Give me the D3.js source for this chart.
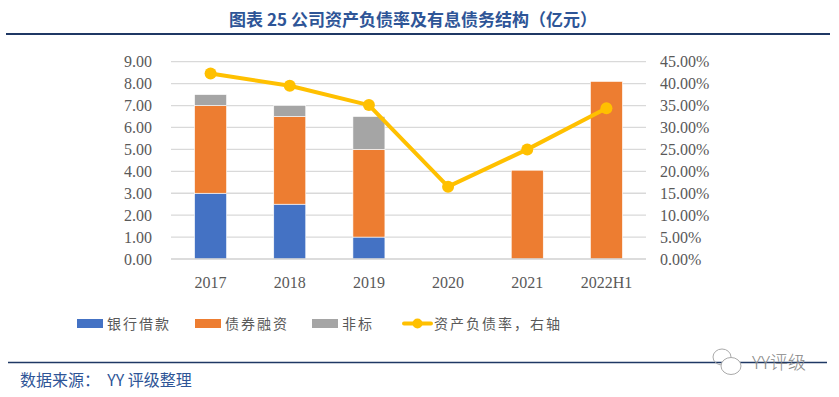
<!DOCTYPE html>
<html><head><meta charset="utf-8">
<script src="https://cdn.jsdelivr.net/npm/d3@7"></script>
<style>body{margin:0;background:#fff}svg{display:block}</style>
</head><body>
<svg id="c" width="839" height="397"></svg>
<script>
const categories = ["2017","2018","2019","2020","2021","2022H1"];
const bankLoans = [3.0, 2.5, 1.0, 0, 0, 0];
const bonds = [4.0, 4.0, 4.0, 0, 4.05, 8.1];
const nonStandard = [0.5, 0.5, 1.5, 0, 0, 0];
const debtRatio = [0.423, 0.395, 0.351, 0.165, 0.250, 0.344];
const leftTicks = [0,1,2,3,4,5,6,7,8,9];
const rightTicks = [0,0.05,0.10,0.15,0.20,0.25,0.30,0.35,0.40,0.45];
const seriesNames = ["银行借款","债券融资","非标","资产负债率，右轴"];
const colors = ["#4472c4","#ed7d31","#a5a5a5","#ffc000"];

const svg = d3.select("#c");
const m = {l:171, r:646, t:61.7, b:259};
const xc = d3.scaleBand().domain(categories).range([m.l, m.r]);
const yL = d3.scaleLinear().domain([0,9]).range([m.b, m.t]);
const yR = d3.scaleLinear().domain([0,0.45]).range([m.b, m.t]);

// title
svg.append("text").attr("x",413).attr("y",26).attr("text-anchor","middle")
  .attr("font-family","'Noto Sans CJK SC'").attr("font-weight","bold").attr("font-size",17)
  .attr("fill","#2e5597").text("图表 25 公司资产负债率及有息债务结构（亿元）");
svg.append("line").attr("x1",6).attr("x2",830).attr("y1",34).attr("y2",34).attr("stroke","#1f3864").attr("stroke-width",2);

// gridlines
svg.append("g").selectAll("line").data(leftTicks.slice(1)).join("line")
  .attr("x1",m.l).attr("x2",m.r).attr("y1",d=>yL(d)).attr("y2",d=>yL(d))
  .attr("stroke","#d9d9d9").attr("stroke-width",1.3);

// stacked bars
const stackData = categories.map((c,i)=>({cat:c, bank:bankLoans[i], bond:bonds[i], non:nonStandard[i]}));
const stack = d3.stack().keys(["bank","bond","non"])(stackData);
const bw = 32;
svg.append("g").selectAll("g").data(stack).join("g").attr("fill",(d,i)=>colors[i])
  .selectAll("rect").data(d=>d.filter(p=>p[1]-p[0]>0)).join("rect")
  .attr("x",d=>xc(d.data.cat)+xc.bandwidth()/2-bw/2).attr("width",bw)
  .attr("y",d=>yL(d[1])).attr("height",d=>yL(d[0])-yL(d[1]))
  .attr("stroke","#ffffff").attr("stroke-width",0.6);

// x axis line
svg.append("line").attr("x1",m.l).attr("x2",m.r).attr("y1",m.b).attr("y2",m.b).attr("stroke","#d0d0d0").attr("stroke-width",1.5);

// left ticks
svg.append("g").selectAll("text").data(leftTicks).join("text")
  .attr("x",152).attr("y",d=>yL(d)+5.5).attr("text-anchor","end")
  .attr("font-family","'Liberation Serif'").attr("font-size",16).attr("fill","#595959")
  .text(d=>d3.format(".2f")(d));
// right ticks
svg.append("g").selectAll("text").data(rightTicks).join("text")
  .attr("x",660).attr("y",d=>yR(d)+5.5).attr("text-anchor","start")
  .attr("font-family","'Liberation Serif'").attr("font-size",16).attr("fill","#595959")
  .text(d=>d3.format(".2%")(d));
// x labels
svg.append("g").selectAll("text").data(categories).join("text")
  .attr("x",d=>xc(d)+xc.bandwidth()/2).attr("y",288).attr("text-anchor","middle")
  .attr("font-family","'Liberation Serif'").attr("font-size",16).attr("fill","#595959")
  .text(d=>d);

// line
const line = d3.line().x((d,i)=>xc(categories[i])+xc.bandwidth()/2).y(d=>yR(d));
svg.append("path").datum(debtRatio).attr("d",line).attr("fill","none")
  .attr("stroke",colors[3]).attr("stroke-width",4).attr("stroke-linejoin","round");
svg.append("g").selectAll("circle").data(debtRatio).join("circle")
  .attr("cx",(d,i)=>xc(categories[i])+xc.bandwidth()/2).attr("cy",d=>yR(d)).attr("r",6)
  .attr("fill",colors[3]);

// legend
const lg = [{x:77,t:0},{x:195,t:1},{x:312,t:2}];
lg.forEach(l=>{
  svg.append("rect").attr("x",l.x).attr("y",319).attr("width",26).attr("height",9).attr("fill",colors[l.t]);
  svg.append("text").attr("x",l.x+30).attr("y",329).attr("font-family","'Noto Sans CJK SC'")
    .attr("font-size",14).attr("letter-spacing",2).attr("fill","#595959").text(seriesNames[l.t]);
});
svg.append("line").attr("x1",404).attr("x2",431).attr("y1",323.5).attr("y2",323.5).attr("stroke",colors[3]).attr("stroke-width",4).attr("stroke-linecap","round");
svg.append("circle").attr("cx",417.5).attr("cy",323.5).attr("r",5).attr("fill",colors[3]);
svg.append("text").attr("x",434).attr("y",329).attr("font-family","'Noto Sans CJK SC'")
  .attr("font-size",14).attr("letter-spacing",2).attr("fill","#595959").text(seriesNames[3]);

// footer
svg.append("line").attr("x1",8).attr("x2",827).attr("y1",362.5).attr("y2",362.5).attr("stroke","#1f3864").attr("stroke-width",1.5);
svg.append("text").attr("x",20).attr("y",386).attr("font-family","'Noto Sans CJK SC'")
  .attr("font-size",16).attr("fill","#2e5597").attr("xml:space","preserve").text("数据来源：  YY 评级整理");
// watermark
svg.append("ellipse").attr("cx",722).attr("cy",357).attr("rx",9).attr("ry",8).attr("fill","none").attr("stroke","#aaa").attr("stroke-width",1);
svg.append("ellipse").attr("cx",731).attr("cy",366).attr("rx",10).attr("ry",8.5).attr("fill","#fff").attr("stroke","#aaa").attr("stroke-width",1);
svg.append("text").attr("x",752).attr("y",369).attr("font-family","'Noto Sans CJK SC'")
  .attr("font-size",18).attr("font-weight",300).attr("fill","#888").text("YY评级");
</script>
</body></html>
